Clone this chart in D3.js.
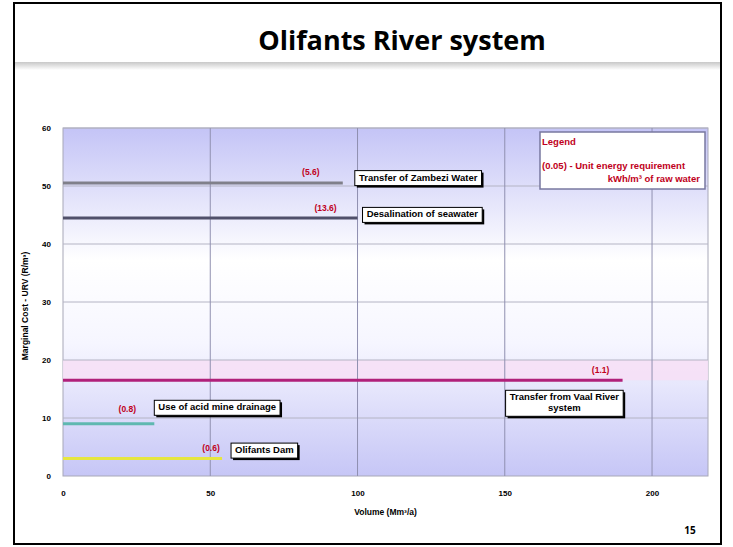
<!DOCTYPE html>
<head>
    <script src="https://d3js.org/d3.v7.min.js"></script>
    <style>
        body { margin: 0; background: #fff; }
        text { font-family: "Liberation Sans", Arial, sans-serif; }
    </style>
</head>
<body>
    <svg></svg>
</body>

<script>
    // Data
    var options = ["Olifants Dam", "Use of acid mine drainage", "Transfer from Vaal River system",
                   "Desalination of seawater", "Transfer of Zambezi Water"];
    var urv = [3, 9, 16.5, 44.5, 50.5];          // R/m3
    var volume = [54, 31, 190, 100, 95];         // Mm3/a
    var energy = ["(0.6)", "(0.8)", "(1.1)", "(13.6)", "(5.6)"];
    var xTicks = [0, 50, 100, 150, 200];
    var yTicks = [0, 10, 20, 30, 40, 50, 60];

    // Styling per option (not data)
    var lineColor = ["#e6e640", "#5fb8b0", "#b0207a", "#50506a", "#80808a"];
    // offsets from line end: energy label, box left, box centre y
    var place = [
        { ex: -11, ey: -11, bx: 9, by: -8 },
        { ex: -27, ey: -15, bx: 0, by: -16 },
        { ex: -22, ey: -10, bx: -117, by: 23 },
        { ex: -32, ey: -10, bx: 5, by: -3 },
        { ex: -32, ey: -11, bx: 12, by: -5 }
    ];

    var width = 733, height = 547;
    var svg = d3.select('svg').attr('width', width).attr('height', height);

    // Slide frame and title
    svg.append('rect').attr('x', 14).attr('y', 3).attr('width', 707).attr('height', 541)
        .attr('fill', '#fff').attr('stroke', '#000').attr('stroke-width', 2);

    var defs = svg.append('defs');
    var hg = defs.append('linearGradient').attr('id', 'hdr').attr('x1', 0).attr('y1', 0).attr('x2', 0).attr('y2', 1);
    hg.append('stop').attr('offset', '0%').attr('stop-color', '#c8c8c8');
    hg.append('stop').attr('offset', '100%').attr('stop-color', '#ffffff');
    svg.append('rect').attr('x', 15).attr('y', 62).attr('width', 705).attr('height', 8).attr('fill', 'url(#hdr)');

    svg.append('text').attr('x', 402).attr('y', 50).attr('text-anchor', 'middle')
        .style('font-family', '"Open Sans", sans-serif').style('font-weight', 'bold').style('font-size', '27px')
        .text('Olifants River system');

    svg.append('text').attr('x', 690).attr('y', 534).attr('text-anchor', 'middle')
        .style('font-family', '"Open Sans", sans-serif').style('font-weight', 'bold').style('font-size', '10px')
        .text('15');

    // Chart
    var pLeft = 63, pRight = 708, pTop = 128, pBottom = 476;
    var x = d3.scaleLinear().domain([0, 219]).range([pLeft, pRight]);
    var y = d3.scaleLinear().domain([0, 60]).range([pBottom, pTop]);

    var bg = defs.append('linearGradient').attr('id', 'plotbg').attr('x1', 0).attr('y1', 0).attr('x2', 0).attr('y2', 1);
    bg.append('stop').attr('offset', '0%').attr('stop-color', '#c4c4f6');
    bg.append('stop').attr('offset', '38%').attr('stop-color', '#ffffff');
    bg.append('stop').attr('offset', '62%').attr('stop-color', '#f6f6ff');
    bg.append('stop').attr('offset', '100%').attr('stop-color', '#c6c6f6');

    svg.append('rect').attr('x', pLeft).attr('y', pTop).attr('width', pRight - pLeft).attr('height', pBottom - pTop)
        .attr('fill', 'url(#plotbg)').attr('stroke', '#a8a8b8').attr('stroke-width', 1);

    // pink glow band above the Vaal line
    svg.append('rect').attr('x', pLeft).attr('y', y(20)).attr('width', pRight - pLeft).attr('height', y(urv[2]) - y(20))
        .attr('fill', '#f6e0f6').attr('opacity', 0.9);

    // grid
    svg.append('g').selectAll('line').data(yTicks.slice(1)).enter().append('line')
        .attr('x1', pLeft).attr('x2', pRight).attr('y1', function (d) { return y(d); }).attr('y2', function (d) { return y(d); })
        .attr('stroke', '#b4b4c4').attr('stroke-width', 1);
    svg.append('g').selectAll('line').data(xTicks.slice(1)).enter().append('line')
        .attr('y1', pTop).attr('y2', pBottom).attr('x1', function (d) { return x(d); }).attr('x2', function (d) { return x(d); })
        .attr('stroke', '#9090b0').attr('stroke-width', 1);

    // axes (ticks only, labels bold)
    var yAxis = svg.append('g').attr('transform', 'translate(' + pLeft + ',0)')
        .call(d3.axisLeft(y).tickValues(yTicks).tickSize(0).tickPadding(12));
    var xAxis = svg.append('g').attr('transform', 'translate(0,' + pBottom + ')')
        .call(d3.axisBottom(x).tickValues(xTicks).tickSize(0).tickPadding(14));
    [xAxis, yAxis].forEach(function (a) {
        a.select('.domain').remove();
        a.selectAll('text').style('font-weight', 'bold').style('font-size', '8px').attr('fill', '#000');
    });

    svg.append('text').attr('transform', 'translate(28,' + 306 + ') rotate(-90)').attr('text-anchor', 'middle')
        .style('font-weight', 'bold').style('font-size', '8.5px').text('Marginal Cost - URV (R/m³)');
    svg.append('text').attr('x', (pLeft + pRight) / 2).attr('y', 515).attr('text-anchor', 'middle')
        .style('font-weight', 'bold').style('font-size', '8.5px').text('Volume (Mm³/a)');

    // option lines
    var idx = d3.range(options.length);
    svg.append('g').selectAll('line').data(idx).enter().append('line')
        .attr('x1', x(0)).attr('x2', function (i) { return x(volume[i]); })
        .attr('y1', function (i) { return y(urv[i]); }).attr('y2', function (i) { return y(urv[i]); })
        .attr('stroke', function (i) { return lineColor[i]; }).attr('stroke-width', 3);

    // energy labels
    svg.append('g').selectAll('text').data(idx).enter().append('text')
        .attr('x', function (i) { return x(volume[i]) + place[i].ex; })
        .attr('y', function (i) { return y(urv[i]) + place[i].ey + 3; })
        .attr('text-anchor', 'middle').attr('fill', '#c00020')
        .style('font-weight', 'bold').style('font-size', '8.5px')
        .text(function (i) { return energy[i]; });

    // name boxes with drop shadow
    idx.forEach(function (i) {
        var lines = i === 2 ? ['Transfer from Vaal River', 'system'] : [options[i]];
        var g = svg.append('g')
            .attr('transform', 'translate(' + (x(volume[i]) + place[i].bx) + ',' + (y(urv[i]) + place[i].by) + ')');
        var t = g.append('text').attr('text-anchor', 'middle').style('font-weight', 'bold').style('font-size', '9.5px');
        lines.forEach(function (s, k) {
            t.append('tspan').attr('x', 0).attr('dy', k ? 11 : 0).text(s);
        });
        var bb = t.node().getBBox();
        var w = bb.width + 8, h = lines.length * 11 + 4;
        var y0 = -h / 2;
        t.attr('transform', 'translate(' + (w / 2) + ',' + (y0 + 10) + ')');
        g.insert('rect', 'text').attr('x', 2).attr('y', y0 + 2).attr('width', w).attr('height', h).attr('fill', '#000');
        g.insert('rect', 'text').attr('x', 0).attr('y', y0).attr('width', w).attr('height', h)
            .attr('fill', '#fff').attr('stroke', '#000').attr('stroke-width', 1);
    });

    // legend box
    var lg = svg.append('g').attr('transform', 'translate(540,132)');
    lg.append('rect').attr('width', 165).attr('height', 57).attr('fill', '#fff')
        .attr('stroke', '#7878a0').attr('stroke-width', 1.5);
    lg.append('text').attr('x', 2).attr('y', 13).attr('fill', '#c00020')
        .style('font-weight', 'bold').style('font-size', '9.5px').text('Legend');
    lg.append('text').attr('x', 2).attr('y', 37).attr('fill', '#c00020')
        .style('font-weight', 'bold').style('font-size', '9.5px').text('(0.05) - Unit energy requirement');
    lg.append('text').attr('x', 160).attr('y', 50).attr('text-anchor', 'end').attr('fill', '#c00020')
        .style('font-weight', 'bold').style('font-size', '9.5px').text('kWh/m³ of raw water');
</script>
